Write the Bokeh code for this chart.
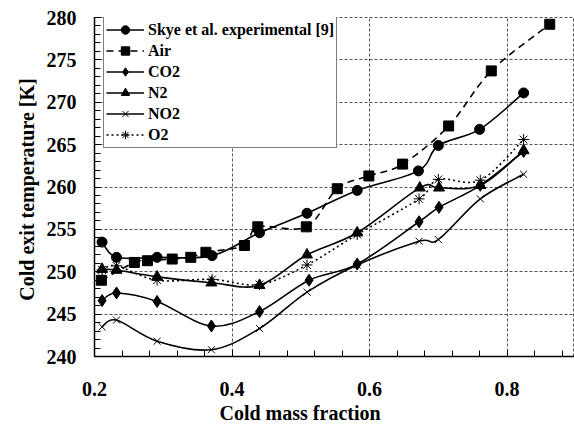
import numpy as np
from bokeh.plotting import figure
from bokeh.models import Range1d, FixedTicker, Legend, LegendItem, Title
from bokeh.embed import file_html
from bokeh.resources import INLINE

# ---------------- data ----------------
skye_x = [0.211, 0.232, 0.291, 0.371, 0.440, 0.509, 0.582, 0.671, 0.700, 0.760, 0.824]
skye_t = [253.5, 251.7, 251.7, 251.9, 254.6, 256.9, 259.6, 261.9, 264.9, 266.8, 271.1]

air_x = [0.210, 0.258, 0.277, 0.313, 0.340, 0.362, 0.418, 0.4375, 0.508, 0.553, 0.599, 0.648, 0.715, 0.777, 0.862]
air_t = [249.0, 251.1, 251.3, 251.5, 251.7, 252.3, 253.1, 255.3, 255.3, 259.8, 261.3, 262.7, 267.2, 273.7, 279.2]

co2_x = [0.211, 0.232, 0.291, 0.370, 0.440, 0.512, 0.582, 0.672, 0.701, 0.761, 0.824]
co2_t = [246.6, 247.5, 246.5, 243.6, 245.3, 249.0, 250.9, 255.9, 257.6, 260.2, 264.2]

n2_x = [0.211, 0.232, 0.291, 0.370, 0.440, 0.509, 0.582, 0.673, 0.701, 0.761, 0.824]
n2_t = [250.3, 250.2, 249.4, 248.7, 248.4, 252.0, 254.6, 259.9, 259.9, 260.2, 264.3]

no2_x = [0.211, 0.232, 0.291, 0.370, 0.440, 0.509, 0.582, 0.672, 0.700, 0.761, 0.824]
no2_t = [243.5, 244.3, 241.8, 240.8, 243.3, 247.6, 250.8, 253.6, 253.8, 258.6, 261.5]

o2_x = [0.211, 0.232, 0.291, 0.371, 0.440, 0.509, 0.582, 0.672, 0.700, 0.761, 0.824]
o2_t = [250.2, 250.7, 249.0, 249.1, 248.5, 250.8, 254.4, 258.6, 260.9, 260.8, 265.6]

labels = ["Skye et al. experimental [9]", "Air", "CO2", "N2", "NO2", "O2"]
x_ticks = [0.2, 0.4, 0.6, 0.8]
y_ticks = [240, 245, 250, 255, 260, 265, 270, 275, 280]

FONT = "Liberation Serif"

p = figure(width=574, height=430,
           x_range=Range1d(0.2, 0.898), y_range=Range1d(240, 280),
           output_backend="svg", toolbar_location=None,
           min_border_left=94, min_border_right=0,
           min_border_top=17, min_border_bottom=74)
p.background_fill_color = "white"
p.border_fill_color = "white"
p.outline_line_color = "#555555"
p.outline_line_dash = "3 2"
p.outline_line_width = 1

# axes
p.xaxis.ticker = FixedTicker(ticks=x_ticks, minor_ticks=list(np.round(np.arange(0.2, 0.9, 0.04), 3)))
p.yaxis.ticker = FixedTicker(ticks=y_ticks, minor_ticks=list(range(240, 281)))
for ax in (p.xaxis[0], p.yaxis[0]):
    ax.axis_line_color = "black"
    ax.axis_line_width = 1.5
    ax.major_tick_in = 6
    ax.major_tick_out = 0
    ax.minor_tick_in = 6
    ax.minor_tick_out = 0
    ax.major_tick_line_color = "black"
    ax.minor_tick_line_color = "black"
    ax.major_label_text_font = FONT
    ax.major_label_text_font_style = "bold"
    ax.major_label_text_font_size = "20px"
    ax.major_label_text_color = "black"
    ax.axis_label_text_font = FONT
    ax.axis_label_text_font_style = "bold"
    ax.axis_label_text_font_size = "20px"
    ax.axis_label_text_color = "black"
p.xaxis.major_label_standoff = 25
p.yaxis.major_label_standoff = 18
p.yaxis.axis_label = "Cold exit temperature  [K]"
p.yaxis.axis_label_standoff = 6

xt = Title(text="Cold mass fraction", align="left", offset=125,
           text_font=FONT, text_font_style="bold", text_font_size="20px",
           text_color="black", standoff=2)
p.add_layout(xt, "below")

# grids
p.xgrid.ticker = FixedTicker(ticks=x_ticks)
p.ygrid.ticker = FixedTicker(ticks=y_ticks)
for g in (p.xgrid[0], p.ygrid[0]):
    g.grid_line_color = "#555555"
    g.grid_line_dash = "3 2"
    g.grid_line_width = 1


def smooth(xs, ys):
    """Bezier control points (Catmull-Rom style) for a smoothed line through the data."""
    x = np.asarray(xs, float)
    y = np.asarray(ys, float)
    xp = np.concatenate([[x[0]], x, [x[-1]]])
    yp = np.concatenate([[y[0]], y, [y[-1]]])
    n = len(x)
    x0, y0 = x[:-1], y[:-1]
    x1, y1 = x[1:], y[1:]
    cx0 = x0 + (xp[2:n + 1] - xp[0:n - 1]) / 6.0
    cy0 = y0 + (yp[2:n + 1] - yp[0:n - 1]) / 6.0
    cx1 = x1 - (xp[3:n + 2] - xp[1:n]) / 6.0
    cy1 = y1 - (yp[3:n + 2] - yp[1:n]) / 6.0
    return dict(x0=x0, y0=y0, x1=x1, y1=y1, cx0=cx0, cy0=cy0, cx1=cx1, cy1=cy1)


series = [
    (skye_x, skye_t, "circle", 10, "solid"),
    (air_x, air_t, "square", 10, "7 5"),
    (co2_x, co2_t, "diamond", 12, "solid"),
    (n2_x, n2_t, "triangle", 11, "solid"),
    (no2_x, no2_t, "x", 10, "solid"),
    (o2_x, o2_t, "asterisk", 11, "2 3"),
]

items = []
for (xs, ys, marker, size, dash), lab in zip(series, labels):
    b = p.bezier(line_color="black", line_width=1.6, line_dash=dash, **smooth(xs, ys))
    s = p.scatter(xs, ys, marker=marker, size=size, fill_color="black",
                  line_color="black", line_width=1)
    items.append(LegendItem(label=lab, renderers=[b, s]))

legend = Legend(items=items, location=(9, 208))
legend.label_text_font = FONT
legend.label_text_font_style = "bold"
legend.label_text_font_size = "16px"
legend.label_text_color = "black"
legend.glyph_width = 38
legend.glyph_height = 21
legend.label_height = 21
legend.label_standoff = 4
legend.spacing = 0
legend.padding = 2
legend.margin = 0
legend.border_line_color = "black"
legend.border_line_width = 1
legend.background_fill_color = "white"
legend.background_fill_alpha = 1.0
p.add_layout(legend)

open("out.html", "w").write(file_html(p, INLINE))
